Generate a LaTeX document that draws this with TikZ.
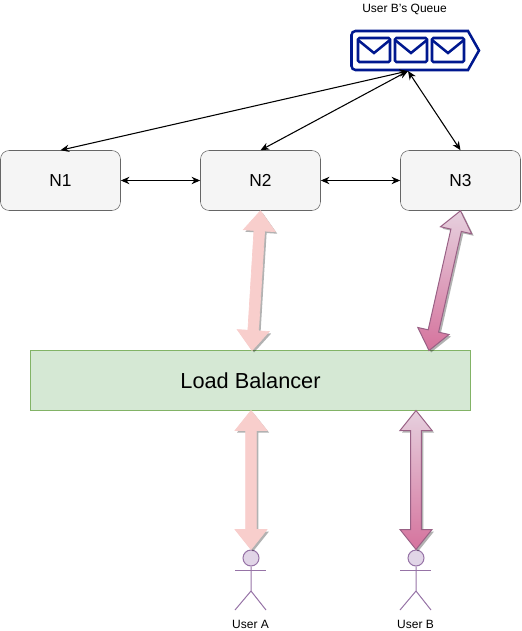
\documentclass[tikz,border=0pt]{standalone}
\usepackage{fontspec}
\setmainfont{Liberation Sans}
\usetikzlibrary{arrows.meta,calc,shadows}

\definecolor{boxfill}{HTML}{F5F5F5}
\definecolor{boxline}{HTML}{666666}
\definecolor{lbfill}{HTML}{D5E8D4}
\definecolor{lbline}{HTML}{82B366}
\definecolor{pinkfill}{HTML}{F8CECC}
\definecolor{mauvetop}{HTML}{E6D0DE}
\definecolor{mauvebot}{HTML}{D5739D}
\definecolor{mauveline}{HTML}{996185}
\definecolor{actorfill}{HTML}{E1D5E7}
\definecolor{actorline}{HTML}{9673A6}
\definecolor{queueblue}{HTML}{00188F}

\tikzset{
  server/.style={draw=boxline, fill=boxfill, rounded corners=6.5pt, minimum width=90pt, minimum height=45pt, inner sep=0pt, font=\fontsize{13}{15}\selectfont},
  balancer/.style={draw=lbline, fill=lbfill, minimum width=330pt, minimum height=45pt, inner sep=0pt, font=\fontsize{16.3}{19}\selectfont},
  small/.style={inner sep=0pt, font=\fontsize{9}{11}\selectfont},
  link/.style={black, line width=0.8pt, {Stealth[length=6.5pt,width=5.5pt]}-{Stealth[length=6.5pt,width=5.5pt]}},
  queueline/.style={draw=queueblue, line width=1.9pt},
  fatshadow/.style={drop shadow={shadow xshift=1.5pt, shadow yshift=-1.5pt, fill=black, opacity=0.3}},
  pinkarrow/.style={fatshadow, fill=pinkfill, draw=pinkfill, line width=0.5pt},
  mauvearrow/.style={fatshadow, top color=mauvetop, bottom color=mauvebot, draw=mauveline, line width=0.75pt},
  actorhead/.style={circle, draw=actorline, fill=actorfill, line width=0.75pt, minimum size=12pt, inner sep=0pt},
  actorfig/.pic={
    \node [actorhead] (-head) at (0,0) {};
    \draw [actorline, line width=0.75pt] (-head.south) -- (0,33) -- (-16,52);
    \draw [actorline, line width=0.75pt] (0,33) -- (15,52);
    \draw [actorline, line width=0.75pt] (-16,12) -- (15,12);
  }
}

\newcommand{\fatarrow}[3][pinkarrow]{
  \path [#1] (#2)
    -- ($(#2)!15pt!(#3)!12pt!90:(#3)$) -- ($(#2)!15pt!(#3)!4pt!90:(#3)$)
    -- ($(#3)!15pt!(#2)!4pt!270:(#2)$) -- ($(#3)!15pt!(#2)!12pt!270:(#2)$)
    -- (#3)
    -- ($(#3)!15pt!(#2)!12pt!90:(#2)$) -- ($(#3)!15pt!(#2)!4pt!90:(#2)$)
    -- ($(#2)!15pt!(#3)!4pt!270:(#3)$) -- ($(#2)!15pt!(#3)!12pt!270:(#3)$)
    -- cycle;
}

\begin{document}
\begin{tikzpicture}[x=0.75pt, y=-0.75pt]
  \useasboundingbox (0,0) rectangle (521,631);

  \node [server] (N1) at (60.5,180.5) {N1};
  \node [server] (N2) at (260.5,180.5) {N2};
  \node [server] (N3) at (460.5,180.5) {N3};
  \node [balancer] (lb) at (250.5,380.5) {Load Balancer};

  % queue icon
  \draw [queueline] (468,31) [rounded corners=3pt] -- (351.5,31) -- (351.5,70) [sharp corners] -- (468,70) -- (479,50.5) -- cycle;
  \foreach \x in {358,395,432} {
    \draw [queueline, rounded corners=1pt] (\x,38) rectangle (\x+32,62);
    \draw [queueline] (\x,40) -- (\x+16,53) -- (\x+32,40);
  }
  \coordinate (queue) at (408,71);
  \node [small] (qlabel) at (404.5,9) {User B's Queue};

  \draw [link] (queue) -- (N1.north);
  \draw [link] (queue) -- (N2.north);
  \draw [link] (queue) -- (N3.north);
  \draw [link] (N1.east) -- (N2.west);
  \draw [link] (N2.east) -- (N3.west);

  \pic (userA) at (251,558) {actorfig};
  \pic (userB) at (416,558) {actorfig};
  \node [small] (labelA) at (250.5,624) {User A};
  \node [small] (labelB) at (415.5,624) {User B};

  \coordinate (lbN2) at (252,350.5);
  \coordinate (lbN3) at (429,350.5);
  \coordinate (lbA) at (251,410.5);
  \coordinate (lbB) at (416,410.5);

  \fatarrow{N2.south}{lbN2}
  \fatarrow[mauvearrow]{N3.south}{lbN3}
  \fatarrow{lbA}{userA-head.north}
  \fatarrow[mauvearrow]{lbB}{userB-head.north}
\end{tikzpicture}
\end{document}
